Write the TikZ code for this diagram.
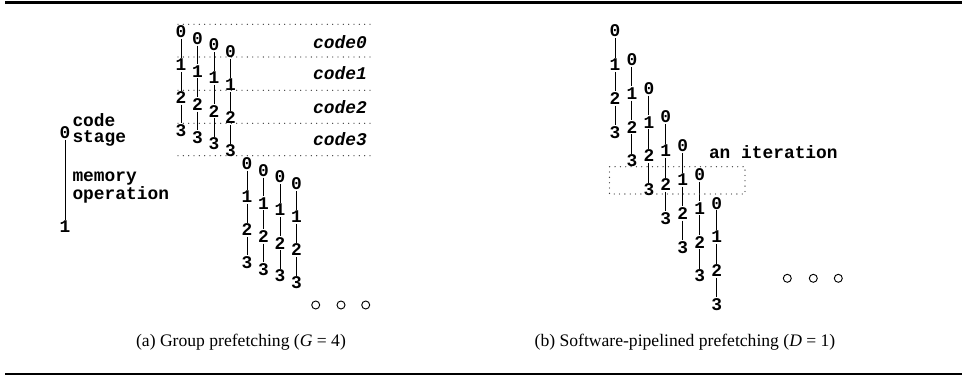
\documentclass[tikz,border=0pt]{standalone}
\usepackage{fontspec}
\setmainfont{Liberation Serif}
\newfontfamily\cmono{Liberation Mono}
\begin{document}
\begin{tikzpicture}[x=0.75pt,y=-0.75pt,
  dg/.style={font=\cmono\bfseries\fontsize{13.4}{11.6}\selectfont, inner sep=0.9pt, outer sep=0pt},
  link/.style={line width=0.75pt},
  dotline/.style={line width=1pt, line cap=round, dash pattern=on 0pt off 4pt, black!75},
  lbl/.style={font=\cmono\bfseries\itshape\fontsize{13.4}{11.6}\selectfont, inner sep=0pt, anchor=east},
  captext/.style={font=\fontsize{13.2}{15}\selectfont, inner sep=0pt},
  toprule/.style={line width=2.2pt},
  botrule/.style={line width=1.5pt},
  dotc/.style={line width=0.7pt}
]
\useasboundingbox (0,0) rectangle (967,375);
% rules
\draw[toprule] (5,2.5) -- (962,2.5);
\draw[botrule] (5,373.5) -- (962,373.5);

% ---------- left panel: group prefetching ----------
\foreach \y in {24.3,57,90.3,123.3,155.7}{
  \draw[dotline] (178,\y) -- (370,\y);
}
\node[lbl] (c0) at (367,42) {code0};
\node[lbl] (c1) at (367,73.5) {code1};
\node[lbl] (c2) at (367,107) {code2};
\node[lbl] (c3) at (367,139.5) {code3};

\foreach \i in {0,...,7}{
  \pgfmathsetmacro\cx{181+16.5*\i}
  \pgfmathsetmacro\cy{31.7+6.7*mod(\i,4)+132*int(\i/4)}
  \foreach \s in {0,...,3}{
    \node[dg] (L\i-\s) at (\cx,{\cy+33*\s}) {\s};
  }
  \draw[link] (L\i-0) -- (L\i-1) -- (L\i-2) -- (L\i-3);
}
\foreach \x in {315.7,341,365.7}{
  \draw[dotc] (\x,305) circle[radius=3pt];
}

% legend
\node[dg, inner sep=0pt] (g0) at (65,132.5) {0};
\node[dg, inner sep=0pt] (g1) at (65,227) {1};
\draw[link] ([yshift=-1pt]g0.south) -- ([yshift=1pt]g1.north);
\node[dg, anchor=west, align=left, inner sep=0pt] (cs) at (72.5,130) {code\\stage};
\node[dg, anchor=west, align=left, inner sep=0pt] (mo) at (72.5,188) {memory\\operation};

\node[captext] (capa) at (241,342) {(a) Group prefetching (\textit{G} = 4)};

% ---------- right panel: software pipelined ----------
\foreach \j in {0,...,6}{
  \pgfmathsetmacro\cx{615+16.95*\j}
  \pgfmathsetmacro\cy{31+28.7*\j}
  \foreach \s in {0,...,3}{
    \node[dg] (R\j-\s) at (\cx,{\cy+33.8*\s}) {\s};
  }
  \draw[link] (R\j-0) -- (R\j-1) -- (R\j-2) -- (R\j-3);
}
\draw[dotline] (609.5,166.7) rectangle (745,194);
\node[dg, anchor=west, inner sep=0pt] (iter) at (709,152) {an iteration};
\foreach \x in {787.3,813.3,838.3}{
  \draw[dotc] (\x,278.3) circle[radius=3pt];
}
\node[captext] (capb) at (685,342) {(b) Software-pipelined prefetching (\textit{D} = 1)};
\end{tikzpicture}
\end{document}
